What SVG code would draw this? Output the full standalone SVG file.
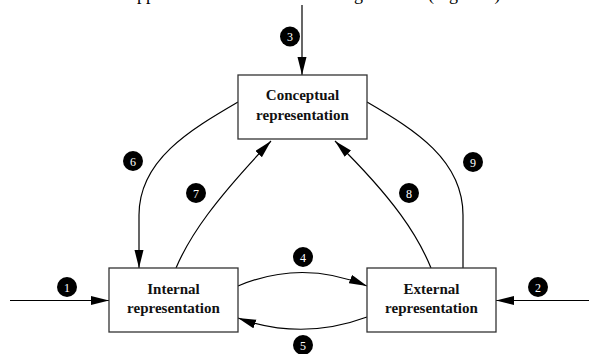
<svg xmlns="http://www.w3.org/2000/svg" width="589" height="354" viewBox="0 0 589 354">
<defs>
<marker id="ah" markerUnits="userSpaceOnUse" markerWidth="20" markerHeight="10" refX="18" refY="4.5" orient="auto">
<path d="M0,0 L18,4.5 L0,9 z" fill="#000"/>
</marker>
<style>
.box{fill:#fff;stroke:#333;stroke-width:1.3}
.lbl{font-family:"Liberation Serif","Times New Roman",serif;font-weight:bold;font-size:15px;text-anchor:middle;fill:#111}
.con{fill:none;stroke:#000;stroke-width:1.2}
.badge circle{fill:#000}
.badge text{font-family:"Liberation Serif","Times New Roman",serif;font-size:12px;fill:#fff;text-anchor:middle}
.top{font-family:"Liberation Serif","Times New Roman",serif;font-size:18px;fill:#000}
</style>
</defs>
<rect width="589" height="354" fill="#fff"/>
<text class="top" y="0"><tspan x="128">upper </tspan><tspan x="343">figure </tspan><tspan x="428">(Figure 2)</tspan></text>
<g id="connectors">
<path class="con" d="M302,5 L302,75" marker-end="url(#ah)"/>
<path class="con" d="M10,300.5 L109,300.5" marker-end="url(#ah)"/>
<path class="con" d="M589,300.5 L496,300.5" marker-end="url(#ah)"/>
<path class="con" d="M238,286 Q302,259 367,286" marker-end="url(#ah)"/>
<path class="con" d="M367,317 Q302,341 238,318" marker-end="url(#ah)"/>
<path class="con" d="M238,102 C190,130 139,160 139,215 L139,268" marker-end="url(#ah)"/>
<path class="con" d="M176,268 C190,235 215,200 271,141" marker-end="url(#ah)"/>
<path class="con" d="M431,268 C418,236 395,200 335,141" marker-end="url(#ah)"/>
<path class="con" d="M367,102 C415,130 463,160 463,215 L463,268"/>
</g>
<g id="conceptual">
<rect class="box" x="238" y="75" width="129" height="64"/>
<text class="lbl" x="302.5" y="100">Conceptual</text>
<text class="lbl" x="302.5" y="120">representation</text>
</g>
<g id="internal">
<rect class="box" x="109" y="268" width="129" height="64"/>
<text class="lbl" x="173.5" y="294">Internal</text>
<text class="lbl" x="173.5" y="313">representation</text>
</g>
<g id="external">
<rect class="box" x="367" y="268" width="129" height="64"/>
<text class="lbl" x="431.5" y="294">External</text>
<text class="lbl" x="431.5" y="313">representation</text>
</g>
<g id="badge1" class="badge"><circle cx="67" cy="287" r="10"/><text x="67" y="291.5">1</text></g>
<g id="badge2" class="badge"><circle cx="538" cy="287" r="10"/><text x="538" y="291.5">2</text></g>
<g id="badge3" class="badge"><circle cx="290" cy="36.5" r="10"/><text x="290" y="41">3</text></g>
<g id="badge4" class="badge"><circle cx="303" cy="257" r="10"/><text x="303" y="261.5">4</text></g>
<g id="badge5" class="badge"><circle cx="303" cy="345" r="10"/><text x="303" y="349.5">5</text></g>
<g id="badge6" class="badge"><circle cx="133" cy="161" r="10"/><text x="133" y="165.5">6</text></g>
<g id="badge7" class="badge"><circle cx="196" cy="193" r="10"/><text x="196" y="197.5">7</text></g>
<g id="badge8" class="badge"><circle cx="409" cy="193" r="10"/><text x="409" y="197.5">8</text></g>
<g id="badge9" class="badge"><circle cx="473" cy="162" r="10"/><text x="473" y="166.5">9</text></g>
</svg>
